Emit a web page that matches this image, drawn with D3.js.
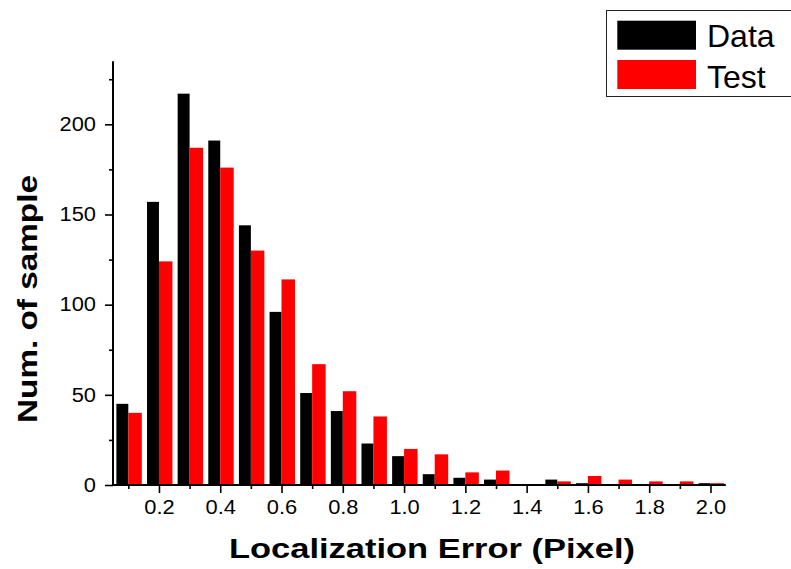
<!DOCTYPE html>
<html>
<head>
<meta charset="utf-8">
<script src="https://cdn.jsdelivr.net/npm/d3@7/dist/d3.min.js"></script>
<style>
  html, body { margin: 0; padding: 0; background: #fff; }
  svg { display: block; }
  text { font-family: "Liberation Sans", Arial, Helvetica, sans-serif; }
</style>
</head>
<body>
<script>
// Histogram of localization error (bin centres, in pixels)
const binCenters = [0.1, 0.2, 0.3, 0.4, 0.5, 0.6, 0.7, 0.8, 0.9, 1.0,
                    1.1, 1.2, 1.3, 1.4, 1.5, 1.6, 1.7, 1.8, 1.9, 2.0];
const dataCounts = [45, 157, 217, 191, 144, 96, 51, 41, 23, 16,
                    6, 4, 3, 0, 3, 1, 0, 0, 0, 1];
const testCounts = [40, 124, 187, 176, 130, 114, 67, 52, 38, 20,
                    17, 7, 8, 0, 2, 5, 3, 2, 2, 1];
const seriesNames = ["Data", "Test"];
const seriesColors = ["#000000", "#ff0000"];
const xMajorTicks = [0.2, 0.4, 0.6, 0.8, 1.0, 1.2, 1.4, 1.6, 1.8, 2.0];
const xMinorTicks = [0.1, 0.3, 0.5, 0.7, 0.9, 1.1, 1.3, 1.5, 1.7, 1.9];
const yMajorTicks = [0, 50, 100, 150, 200];
const yMinorTicks = [25, 75, 125, 175, 225];
const xTitle = "Localization Error (Pixel)";
const yTitle = "Num. of sample";

const W = 791, H = 569;
const svg = d3.select("body").append("svg").attr("width", W).attr("height", H);

const x = d3.scaleLinear().domain([0.05, 2.05]).range([113, 725.8]);
const y = d3.scaleLinear().domain([0, 235]).range([485, 61.2]);

// bars: Data sits left of the bin centre, Test right of it
const leftW = 0.039, rightW = 0.044;
const rows = binCenters.map((c, i) => ({ c, d: dataCounts[i], t: testCounts[i] }));

svg.append("g").selectAll("rect").data(rows).join("rect")
  .attr("x", r => x(r.c - leftW))
  .attr("width", r => x(r.c) - x(r.c - leftW))
  .attr("y", r => y(r.d))
  .attr("height", r => y(0) - y(r.d))
  .attr("fill", seriesColors[0]);

svg.append("g").selectAll("rect").data(rows).join("rect")
  .attr("x", r => x(r.c))
  .attr("width", r => x(r.c + rightW) - x(r.c))
  .attr("y", r => y(r.t))
  .attr("height", r => y(0) - y(r.t))
  .attr("fill", seriesColors[1]);

// axes
const labelStretch = 1.12;
function stretchLabels(g) {
  g.selectAll(".tick text").each(function () {
    const len = this.getComputedTextLength();
    d3.select(this).attr("textLength", len * labelStretch).attr("lengthAdjust", "spacingAndGlyphs");
  });
}

const xAxis = svg.append("g").attr("transform", `translate(0,${y(0)})`)
  .call(d3.axisBottom(x).tickValues(xMajorTicks).tickFormat(d3.format(".1f")).tickSize(8).tickPadding(7));
const xMinor = svg.append("g").attr("transform", `translate(0,${y(0)})`)
  .call(d3.axisBottom(x).tickValues(xMinorTicks).tickFormat("").tickSize(4));

const yAxis = svg.append("g").attr("transform", `translate(${x(0.05)},0)`)
  .call(d3.axisLeft(y).tickValues(yMajorTicks).tickSize(8).tickPadding(9));
const yMinor = svg.append("g").attr("transform", `translate(${x(0.05)},0)`)
  .call(d3.axisLeft(y).tickValues(yMinorTicks).tickFormat("").tickSize(4));

[xAxis, xMinor, yAxis, yMinor].forEach(g => {
  g.select(".domain").remove();
  g.selectAll(".tick line").attr("stroke", "#000").attr("stroke-width", 1.6);
  g.selectAll(".tick text").attr("font-size", 19.5).attr("fill", "#000")
    .attr("font-family", "'Liberation Sans', Arial, sans-serif");
});
stretchLabels(xAxis);
stretchLabels(yAxis);

// axis lines
svg.append("line").attr("x1", x(0.05)).attr("x2", x(2.05)).attr("y1", y(0)).attr("y2", y(0))
  .attr("stroke", "#000").attr("stroke-width", 2);
svg.append("line").attr("x1", x(0.05)).attr("x2", x(0.05)).attr("y1", y(0) + 1).attr("y2", y(235))
  .attr("stroke", "#000").attr("stroke-width", 2);

// axis titles
svg.append("text").text(xTitle)
  .attr("x", 432).attr("y", 558).attr("text-anchor", "middle")
  .attr("font-size", 27).attr("font-weight", "bold")
  .attr("textLength", 406).attr("lengthAdjust", "spacingAndGlyphs");

svg.append("text").text(yTitle)
  .attr("transform", "translate(37,299) rotate(-90)").attr("text-anchor", "middle")
  .attr("font-size", 27).attr("font-weight", "bold")
  .attr("textLength", 248).attr("lengthAdjust", "spacingAndGlyphs");

// legend
const legend = svg.append("g");
legend.append("rect").attr("x", 606.5).attr("y", 10.5).attr("width", 200).attr("height", 86)
  .attr("fill", "#fff").attr("stroke", "#222").attr("stroke-width", 1);
seriesNames.forEach((name, i) => {
  const top = [20.7, 60][i];
  const baseline = [46.7, 87.5][i];
  legend.append("rect").attr("x", 617.3).attr("y", top).attr("width", 78.7).attr("height", 29)
    .attr("fill", seriesColors[i]);
  legend.append("text").text(name).attr("x", 707).attr("y", baseline)
    .attr("font-size", 32).attr("fill", "#000");
});
</script>
</body>
</html>
